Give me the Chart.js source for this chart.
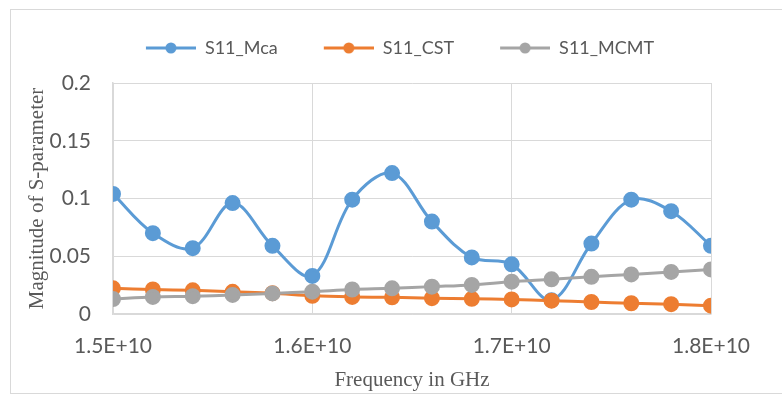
<!DOCTYPE html>
<html>
<head>
<meta charset="utf-8">
<script src="https://cdn.jsdelivr.net/npm/chart.js@4/dist/chart.umd.min.js"></script>
<style>
  html, body { margin: 0; padding: 0; background: #ffffff; }
  #wrap { position: relative; width: 782px; height: 395px; overflow: hidden; background: #ffffff; }
  #frame { position: absolute; left: 10px; top: 9px; width: 800px; height: 383px; border: 1px solid #d9d9d9; }
  #chart { position: absolute; left: 0; top: 0; }
</style>
</head>
<body>
<div id="wrap">
  <div id="frame"></div>
  <canvas id="chart" width="782" height="395"></canvas>
</div>
<script>
// Frequency sweep (Hz)
const FREQ = [1.50e10, 1.52e10, 1.54e10, 1.56e10, 1.58e10, 1.60e10, 1.62e10, 1.64e10,
              1.66e10, 1.68e10, 1.70e10, 1.72e10, 1.74e10, 1.76e10, 1.78e10, 1.80e10];

// |S11| per source
const S11_MEA  = [0.104, 0.070, 0.057, 0.096, 0.059, 0.033, 0.099, 0.122,
                  0.080, 0.049, 0.043, 0.012, 0.061, 0.099, 0.089, 0.059];
const S11_CST  = [0.0222, 0.0212, 0.0205, 0.0192, 0.0180, 0.0158, 0.0148, 0.0144,
                  0.0137, 0.0131, 0.0126, 0.0115, 0.0104, 0.0093, 0.0085, 0.0072];
const S11_MCMT = [0.0130, 0.0148, 0.0154, 0.0165, 0.0178, 0.0193, 0.0212, 0.0222,
                  0.0237, 0.0252, 0.0280, 0.0300, 0.0322, 0.0343, 0.0364, 0.0386];

const SERIES_NAMES = ['S11_Mca', 'S11_CST', 'S11_MCMT'];
const SERIES_COLORS = ['#5B9BD5', '#ED7D31', '#A5A5A5'];

const X_TICKS = [1.5e10, 1.6e10, 1.7e10, 1.8e10];
const Y_TICKS = [0, 0.05, 0.1, 0.15, 0.2];

const TEXT_COLOR = '#595959';
const GRID_COLOR = '#d9d9d9';

// Legend swatch: a short line with a dot, preceded by some blank room
function legendSwatch(color) {
  const c = document.createElement('canvas');
  c.width = 86; c.height = 14;
  const g = c.getContext('2d');
  g.strokeStyle = color; g.lineWidth = 3;
  g.beginPath(); g.moveTo(36, 7); g.lineTo(86, 7); g.stroke();
  g.fillStyle = color;
  g.beginPath(); g.arc(61, 7, 5.5, 0, Math.PI * 2); g.fill();
  return c;
}
const SWATCHES = SERIES_COLORS.map(legendSwatch);

function makeSet(i, values, order) {
  return {
    label: SERIES_NAMES[i],
    data: values,
    borderColor: SERIES_COLORS[i],
    backgroundColor: SERIES_COLORS[i],
    pointBackgroundColor: SERIES_COLORS[i],
    pointBorderColor: SERIES_COLORS[i],
    borderWidth: 3,
    pointRadius: 6.5,
    pointHoverRadius: 6.5,
    tension: 0.35,
    fill: false,
    order: order,
    xAxisID: 'x',
    yAxisID: 'y'
  };
}

new Chart(document.getElementById('chart'), {
  type: 'line',
  data: {
    labels: FREQ,
    datasets: [
      makeSet(0, S11_MEA, 3),
      makeSet(1, S11_CST, 2),
      makeSet(2, S11_MCMT, 1)
    ]
  },
  options: {
    responsive: false,
    animation: false,
    devicePixelRatio: 1,
    layout: { padding: { left: 0, right: 18, top: 29, bottom: 0 } },
    plugins: {
      tooltip: { enabled: false },
      legend: {
        display: true,
        position: 'top',
        align: 'center',
        labels: {
          usePointStyle: true,
          pointStyleWidth: 86,
          padding: 10,
          color: TEXT_COLOR,
          font: { family: 'Lato', size: 18 },
          sort: (a, b) => a.datasetIndex - b.datasetIndex,
          generateLabels: (chart) => {
            const items = Chart.defaults.plugins.legend.labels.generateLabels(chart);
            items.forEach(it => { it.pointStyle = SWATCHES[it.datasetIndex]; });
            return items;
          }
        }
      }
    },
    scales: {
      x: {
        type: 'linear',
        position: 'bottom',
        min: X_TICKS[0],
        max: X_TICKS[X_TICKS.length - 1],
        afterBuildTicks: (s) => { s.ticks = X_TICKS.map(v => ({ value: v })); },
        ticks: {
          color: TEXT_COLOR,
          font: { family: 'Lato', size: 21 },
          padding: 20,
          maxRotation: 0,
          autoSkip: false,
          callback: (v) => Number(v).toExponential(1).replace('e', 'E')
        },
        grid: { color: GRID_COLOR, lineWidth: 1, drawTicks: false },
        border: { color: GRID_COLOR, width: 1.5 },
        title: {
          display: true,
          text: 'Frequency in GHz',
          color: TEXT_COLOR,
          font: { family: 'Liberation Serif', size: 21, lineHeight: 1.2 },
          padding: { top: 0, bottom: 2 }
        },
        afterFit: (s) => { s.height = 81; }
      },
      y: {
        type: 'linear',
        position: 'left',
        min: 0,
        max: 0.2,
        afterBuildTicks: (s) => { s.ticks = Y_TICKS.map(v => ({ value: v })); },
        ticks: {
          color: TEXT_COLOR,
          font: { family: 'Lato', size: 21 },
          padding: 22,
          callback: (v) => String(+Number(v).toFixed(2))
        },
        grid: { color: GRID_COLOR, lineWidth: 1, drawTicks: false },
        border: { color: GRID_COLOR, width: 1.5 },
        title: {
          display: true,
          text: 'Magnitude of S-parameter',
          color: TEXT_COLOR,
          font: { family: 'Liberation Serif', size: 21, lineHeight: 1.2 },
          padding: { top: 25, bottom: 0 }
        },
        afterFit: (s) => { s.width = 113; }
      },
      // empty spacer axes that reserve room above and to the right of the plot
      xTop: {
        type: 'linear',
        position: 'top',
        display: true,
        ticks: { display: false },
        grid: { display: false },
        border: { display: false },
        afterFit: (s) => { s.height = 16; }
      },
      yRight: {
        type: 'linear',
        position: 'right',
        display: true,
        ticks: { display: false },
        grid: { display: false },
        border: { display: false },
        afterFit: (s) => { s.width = 53; }
      }
    }
  }
});
</script>
</body>
</html>
